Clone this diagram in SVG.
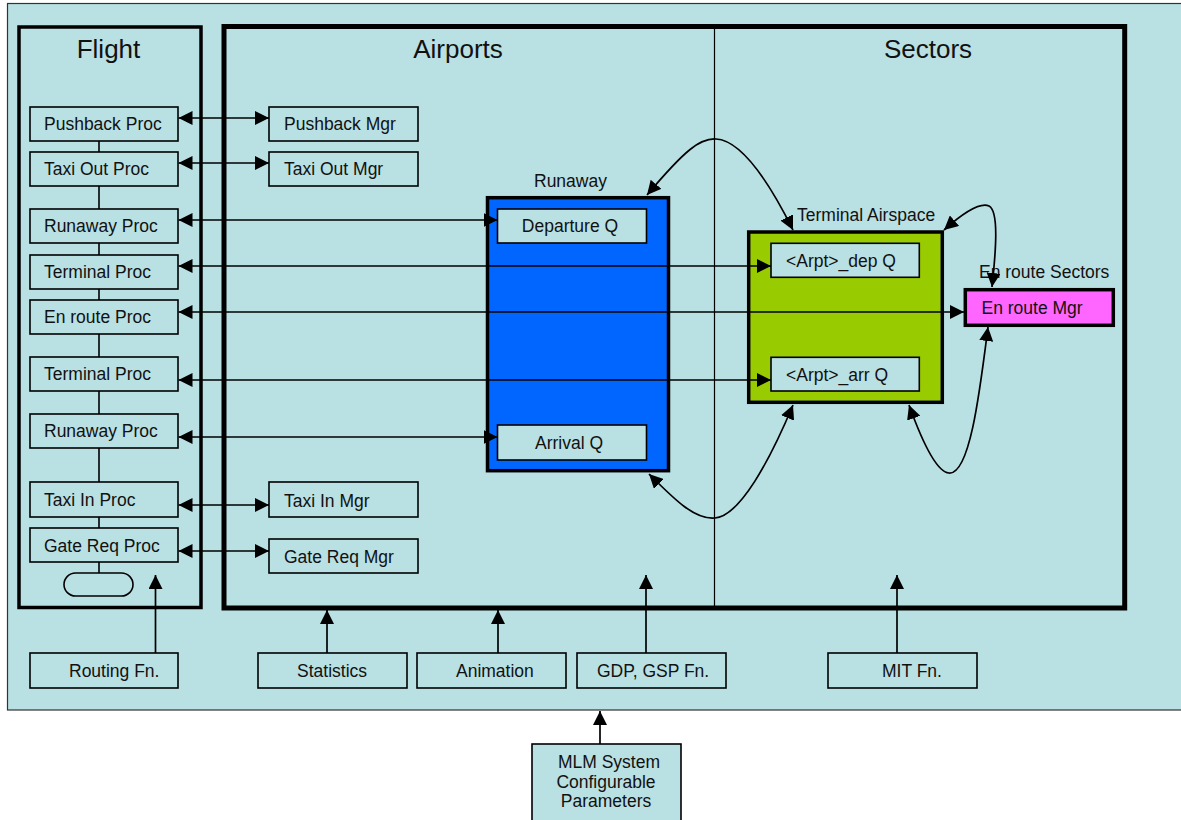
<svg xmlns="http://www.w3.org/2000/svg" width="1181" height="820" viewBox="0 0 1181 820">
  <style>
    .bg { fill: #B9E0E3; stroke: #333; stroke-width: 1.2; }
    .box { fill: #B9E0E3; stroke: #000; stroke-width: 1.6; }
    .frame { fill: none; stroke: #000; }
    .lbl { font-family: "Liberation Sans", Arial, sans-serif; font-size: 17.5px; fill: #111; }
    .title { font-family: "Liberation Sans", Arial, sans-serif; font-size: 26px; fill: #111; text-anchor: middle; }
    .mid { text-anchor: middle; }
    .conn { fill: none; stroke: #000; stroke-width: 1.7; }
    .both { marker-start: url(#arr); marker-end: url(#arr); }
    .one { marker-end: url(#arr); }
  </style>
  <defs>
    <marker id="arr" viewBox="0 0 14 14" refX="14" refY="7" markerWidth="14" markerHeight="14" markerUnits="userSpaceOnUse" orient="auto-start-reverse">
      <path d="M0,0 L14,7 L0,14 z" fill="#000"/>
    </marker>
  </defs>

  <!-- system background -->
  <rect class="bg" x="7.5" y="3.5" width="1185" height="706.5"/>

  <!-- Flight column -->
  <g id="flight">
    <rect class="frame" x="19" y="27" width="182" height="580.5" stroke-width="3.5"/>
    <text class="title" x="108.5" y="58">Flight</text>
    <line x1="99" y1="140" x2="99" y2="573" stroke="#000" stroke-width="1.6"/>
    <rect class="box" x="64" y="573" width="69" height="23" rx="11.5"/>
  </g>

  <!-- Airports / Sectors frame -->
  <g id="airports-sectors">
    <rect class="frame" x="224" y="26.5" width="900.7" height="581.5" stroke-width="5"/>
    <line x1="714.5" y1="29" x2="714.5" y2="606" stroke="#000" stroke-width="1.2"/>
    <text class="title" x="458" y="58">Airports</text>
    <text class="title" x="928" y="58">Sectors</text>
  </g>

  <!-- Flight procs -->
  <g id="pushback-proc"><rect class="box" x="30" y="107" width="148" height="34"/><text class="lbl" x="44" y="130">Pushback Proc</text></g>
  <g id="taxiout-proc"><rect class="box" x="30" y="152" width="148" height="34"/><text class="lbl" x="44" y="175">Taxi Out Proc</text></g>
  <g id="runaway-proc-1"><rect class="box" x="30" y="209" width="148" height="34"/><text class="lbl" x="44" y="232">Runaway Proc</text></g>
  <g id="terminal-proc-1"><rect class="box" x="30" y="255" width="148" height="34"/><text class="lbl" x="44" y="278">Terminal Proc</text></g>
  <g id="enroute-proc"><rect class="box" x="30" y="300" width="148" height="34"/><text class="lbl" x="44" y="323">En route Proc</text></g>
  <g id="terminal-proc-2"><rect class="box" x="30" y="357" width="148" height="34"/><text class="lbl" x="44" y="380">Terminal Proc</text></g>
  <g id="runaway-proc-2"><rect class="box" x="30" y="414" width="148" height="34"/><text class="lbl" x="44" y="437">Runaway Proc</text></g>
  <g id="taxiin-proc"><rect class="box" x="30" y="482" width="148" height="35"/><text class="lbl" x="44" y="506">Taxi In Proc</text></g>
  <g id="gatereq-proc"><rect class="box" x="30" y="528" width="148" height="34"/><text class="lbl" x="44" y="552">Gate Req Proc</text></g>

  <!-- Airport managers -->
  <g id="pushback-mgr"><rect class="box" x="269" y="107" width="149" height="34"/><text class="lbl" x="284" y="130">Pushback Mgr</text></g>
  <g id="taxiout-mgr"><rect class="box" x="269" y="152" width="149" height="34"/><text class="lbl" x="284" y="175">Taxi Out Mgr</text></g>
  <g id="taxiin-mgr"><rect class="box" x="269" y="482" width="149" height="35"/><text class="lbl" x="284" y="507">Taxi In Mgr</text></g>
  <g id="gatereq-mgr"><rect class="box" x="269" y="539" width="149" height="34"/><text class="lbl" x="284" y="563">Gate Req Mgr</text></g>

  <!-- Runaway -->
  <g id="runaway">
    <text class="lbl" x="534" y="187">Runaway</text>
    <rect x="487.5" y="197.7" width="181" height="273" fill="#0066FF" stroke="#000" stroke-width="3.5"/>
    <rect class="box" x="497.5" y="209" width="149" height="34"/>
    <text class="lbl mid" x="570" y="232">Departure Q</text>
    <rect class="box" x="497.5" y="425" width="149" height="35"/>
    <text class="lbl mid" x="569" y="448.5">Arrival Q</text>
  </g>

  <!-- Terminal Airspace -->
  <g id="terminal-airspace">
    <text class="lbl" x="797" y="221">Terminal Airspace</text>
    <rect x="748.7" y="232" width="193.6" height="170.3" fill="#99CC00" stroke="#000" stroke-width="3.5"/>
    <rect class="box" x="771" y="243.3" width="148.3" height="34"/>
    <text class="lbl" x="786" y="267">&lt;Arpt&gt;_dep Q</text>
    <rect class="box" x="771" y="357.3" width="148.3" height="33.7"/>
    <text class="lbl" x="786" y="380.5">&lt;Arpt&gt;_arr Q</text>
  </g>

  <!-- En route Sectors -->
  <g id="enroute-sectors">
    <text class="lbl" x="979" y="278">En route Sectors</text>
    <rect x="965.3" y="289.7" width="148" height="35.6" fill="#FF66FF" stroke="#000" stroke-width="3.5"/>
    <text class="lbl" x="981.5" y="314">En route Mgr</text>
  </g>

  <!-- Functions -->
  <g id="routing-fn"><rect class="box" x="30" y="653" width="148" height="35"/><text class="lbl" x="69" y="677">Routing Fn.</text></g>
  <g id="statistics"><rect class="box" x="258" y="653" width="149" height="35"/><text class="lbl" x="297" y="677">Statistics</text></g>
  <g id="animation"><rect class="box" x="417" y="653" width="149" height="35"/><text class="lbl" x="456" y="677">Animation</text></g>
  <g id="gdp-gsp-fn"><rect class="box" x="577" y="653" width="149" height="35"/><text class="lbl" x="597" y="677">GDP, GSP Fn.</text></g>
  <g id="mit-fn"><rect class="box" x="828" y="653" width="149" height="35"/><text class="lbl" x="882" y="677">MIT Fn.</text></g>

  <!-- System parameters -->
  <g id="mlm-params">
    <rect class="box" x="532" y="744" width="149" height="90"/>
    <text class="lbl mid" x="609" y="768">MLM System</text>
    <text class="lbl mid" x="606" y="788">Configurable</text>
    <text class="lbl mid" x="606" y="807">Parameters</text>
  </g>

  <!-- Connectors -->
  <g id="connectors">
    <line class="conn both" x1="178.5" y1="118" x2="269" y2="118"/>
    <line class="conn both" x1="178.5" y1="163" x2="269" y2="163"/>
    <line class="conn both" x1="178.5" y1="220" x2="497.5" y2="220"/>
    <line class="conn both" x1="178.5" y1="266" x2="771" y2="266"/>
    <line class="conn both" x1="178.5" y1="312" x2="964" y2="312"/>
    <line class="conn both" x1="178.5" y1="380" x2="771" y2="380"/>
    <line class="conn both" x1="178.5" y1="437" x2="497.5" y2="437"/>
    <line class="conn both" x1="178.5" y1="505" x2="269" y2="505"/>
    <line class="conn both" x1="178.5" y1="551" x2="269" y2="551"/>

    <!-- curved links between runway, terminal airspace and en route -->
    <path class="conn both" d="M647,195 C685,150 700,138 716,139 C737,140 762,168 793,230"/>
    <path class="conn both" d="M944,230 C962,214 980,202 989,206 C999,211 996,250 992,287"/>
    <path class="conn both" d="M988,327 C980,390 970,475 949,473 C935,472 918,430 909,405"/>
    <path class="conn both" d="M649,474 C675,500 695,520 715,518 C740,516 770,460 793,405"/>

    <!-- function inputs -->
    <line class="conn one" x1="155.5" y1="653" x2="155.5" y2="575"/>
    <line class="conn one" x1="327" y1="653" x2="327" y2="610"/>
    <line class="conn one" x1="498" y1="653" x2="498" y2="610"/>
    <line class="conn one" x1="646" y1="653" x2="646" y2="575"/>
    <line class="conn one" x1="897" y1="653" x2="897" y2="575"/>
    <line class="conn one" x1="600" y1="744" x2="600" y2="711"/>
  </g>
</svg>
